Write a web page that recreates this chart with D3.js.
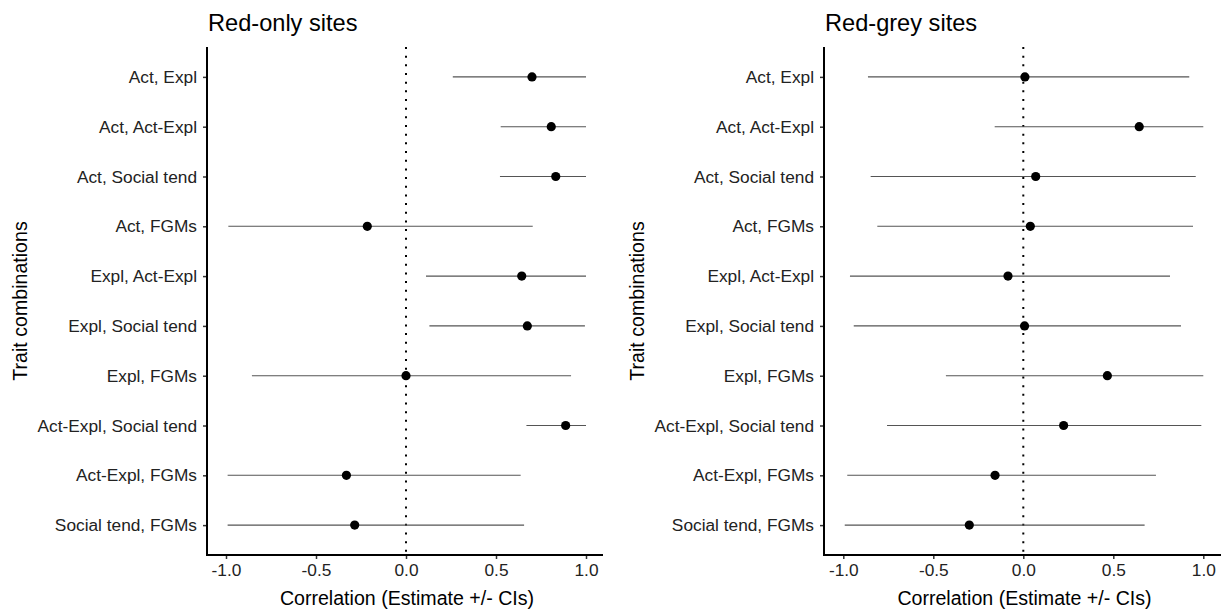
<!DOCTYPE html>
<html><head><meta charset="utf-8">
<script src="https://cdn.jsdelivr.net/npm/d3@7"></script>
<style>body{margin:0;background:#fff;}svg{display:block;font-family:"Liberation Sans",Arial,sans-serif;}</style>
</head><body><svg id="c" width="1221" height="609"></svg>
<script>
const categories = ["Act, Expl","Act, Act-Expl","Act, Social tend","Act, FGMs","Expl, Act-Expl","Expl, Social tend","Expl, FGMs","Act-Expl, Social tend","Act-Expl, FGMs","Social tend, FGMs"];
const redOnlyEst = [0.70,0.807,0.832,-0.215,0.643,0.674,0.0,0.887,-0.331,-0.285];
const redOnlyLo  = [0.26,0.526,0.522,-0.987,0.111,0.130,-0.856,0.669,-0.991,-0.991];
const redOnlyHi  = [1.0,1.0,1.0,0.704,1.0,0.994,0.917,1.0,0.637,0.656];
const redGreyEst = [0.009,0.644,0.069,0.039,-0.085,0.007,0.467,0.224,-0.157,-0.30];
const redGreyLo  = [-0.863,-0.159,-0.848,-0.811,-0.963,-0.942,-0.43,-0.757,-0.978,-0.992];
const redGreyHi  = [0.922,1.0,0.958,0.943,0.815,0.876,1.0,0.989,0.737,0.674];
const xTicks = [-1.0,-0.5,0.0,0.5,1.0];
const titles = ["Red-only sites","Red-grey sites"];
const xTitle = "Correlation (Estimate +/- CIs)";
const yTitle = "Trait combinations";

const svg = d3.select("#c");
const panels = [
  {title:titles[0], est:redOnlyEst, lo:redOnlyLo, hi:redOnlyHi, axisX:207, x0:226, x1:586, right:603},
  {title:titles[1], est:redGreyEst, lo:redGreyLo, hi:redGreyHi, axisX:824, x0:843.3, x1:1203.3, right:1221}
];
const plotTop = 47, plotBottom = 555;

panels.forEach(p => {
  const g = svg.append("g");
  const x = d3.scaleLinear().domain([-1,1]).range([p.x0,p.x1]);
  const y = d3.scalePoint().domain(categories).range([plotTop,plotBottom]).padding(0.6);
  g.append("line").attr("x1",x(0)).attr("x2",x(0)).attr("y1",plotTop).attr("y2",plotBottom)
    .attr("stroke","#000").attr("stroke-width",2).attr("stroke-dasharray","2,6.67");
  const data = categories.map((c,i)=>({c, e:p.est[i], lo:p.lo[i], hi:p.hi[i]}));
  g.selectAll(".ci").data(data).enter().append("line")
    .attr("x1",d=>x(d.lo)).attr("x2",d=>x(d.hi)).attr("y1",d=>y(d.c)).attr("y2",d=>y(d.c))
    .attr("stroke","#555").attr("stroke-width",1.1);
  g.selectAll(".pt").data(data).enter().append("circle")
    .attr("cx",d=>x(d.e)).attr("cy",d=>y(d.c)).attr("r",4.6).attr("fill","#000");
  const xa = g.append("g").attr("transform",`translate(0,${plotBottom})`)
    .call(d3.axisBottom(x).tickValues(xTicks).tickFormat(d => d.toFixed(1)).tickSizeOuter(0).tickSize(4).tickPadding(4.5));
  xa.select(".domain").remove();
  xa.selectAll("line").attr("stroke","#333").attr("stroke-width",1.5);
  xa.selectAll("text").attr("font-size",17.3).attr("fill","#222").attr("font-family","Liberation Sans, Arial, sans-serif");
  g.append("line").attr("x1",p.axisX).attr("x2",p.right).attr("y1",plotBottom).attr("y2",plotBottom).attr("stroke","#000").attr("stroke-width",2);
  const ya = g.append("g").attr("transform",`translate(${p.axisX},0)`)
    .call(d3.axisLeft(y).tickSizeOuter(0).tickSize(4).tickPadding(6));
  ya.select(".domain").remove();
  ya.selectAll("line").attr("stroke","#333").attr("stroke-width",1.5);
  ya.selectAll("text").attr("font-size",17.3).attr("fill","#222").attr("font-family","Liberation Sans, Arial, sans-serif");
  g.append("line").attr("x1",p.axisX).attr("x2",p.axisX).attr("y1",plotTop).attr("y2",plotBottom+1).attr("stroke","#000").attr("stroke-width",2);
  g.append("text").attr("x",p.axisX+1).attr("y",31).attr("font-size",23.6).attr("fill","#000").text(p.title);
  g.append("text").attr("x",(p.axisX+p.right)/2 + 2).attr("y",605).attr("text-anchor","middle").attr("font-size",19.6).attr("fill","#000").text(xTitle);
  g.append("text").attr("transform",`translate(${p.axisX-180.3},${(plotTop+plotBottom)/2}) rotate(-90)`).attr("text-anchor","middle").attr("font-size",19.6).attr("fill","#000").text(yTitle);
});
</script></body></html>
